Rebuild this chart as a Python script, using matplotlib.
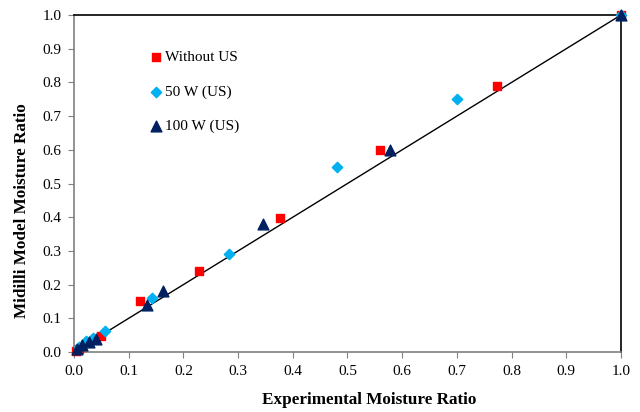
import numpy as np
import matplotlib.pyplot as plt

plt.rcParams['font.family'] = ['Liberation Serif', 'DejaVu Serif']

# experimental vs Midilli model moisture ratio
exp_wo = [1.0, 0.774, 0.559, 0.377, 0.229, 0.121, 0.049, 0.010, 0.004]
mod_wo = [1.0, 0.790, 0.600, 0.398, 0.240, 0.151, 0.047, 0.010, 0.003]

exp_50 = [1.0, 0.700, 0.481, 0.283, 0.143, 0.057, 0.035, 0.022, 0.010]
mod_50 = [1.0, 0.751, 0.550, 0.291, 0.160, 0.062, 0.042, 0.032, 0.015]

exp_100 = [1.0, 0.578, 0.346, 0.163, 0.133, 0.040, 0.027, 0.015, 0.006]
mod_100 = [1.0, 0.599, 0.380, 0.181, 0.140, 0.040, 0.030, 0.020, 0.008]

ticks = np.arange(0, 1.01, 0.1)

fig = plt.figure(figsize=(6.4, 4.12), dpi=100)
ax = fig.add_axes([0.1156, 0.1456, 0.8547, 0.818])

ax.plot([0, 1], [0, 1], color="black", lw=1.0, zorder=1)
ax.scatter(exp_wo, mod_wo, marker="s", s=40, color="#ff0000", label="Without US", zorder=3, clip_on=False)
ax.scatter(exp_50, mod_50, marker="D", s=28, color="#00b0f0", label="50 W (US)", zorder=3, clip_on=False)
ax.scatter(exp_100, mod_100, marker="^", s=60, color="#002060", label="100 W (US)", zorder=4, clip_on=False)

ax.set_xlim(0, 1)
ax.set_ylim(0, 1)
ax.set_xticks(ticks)
ax.set_yticks(ticks)
ax.set_xticklabels([f"{v:.1f}" for v in ticks])
ax.set_yticklabels([f"{v:.1f}" for v in ticks])
ax.tick_params(direction="out", length=4, color="#808080", labelsize=11, pad=5)

for s in ["left", "bottom"]:
    ax.spines[s].set_color("#808080")
    ax.spines[s].set_linewidth(1.2)
for s in ["top", "right"]:
    ax.spines[s].set_color("black")
    ax.spines[s].set_linewidth(1.2)

ax.set_xlabel("Experimental Moisture Ratio", fontsize=12.3, fontweight="bold", va="center")
ax.set_ylabel("Midilli Model Moisture Ratio", fontsize=12.3, fontweight="bold", va="center")
ax.xaxis.set_label_coords(0.54, -0.142)
ax.yaxis.set_label_coords(-0.095, 0.42)

ax.legend(loc="upper left", bbox_to_anchor=(0.11, 0.935), frameon=False, fontsize=11,
          handletextpad=0.1, labelspacing=1.35, handlelength=1.0, scatterpoints=1)

fig.savefig("out.png", dpi=100)
